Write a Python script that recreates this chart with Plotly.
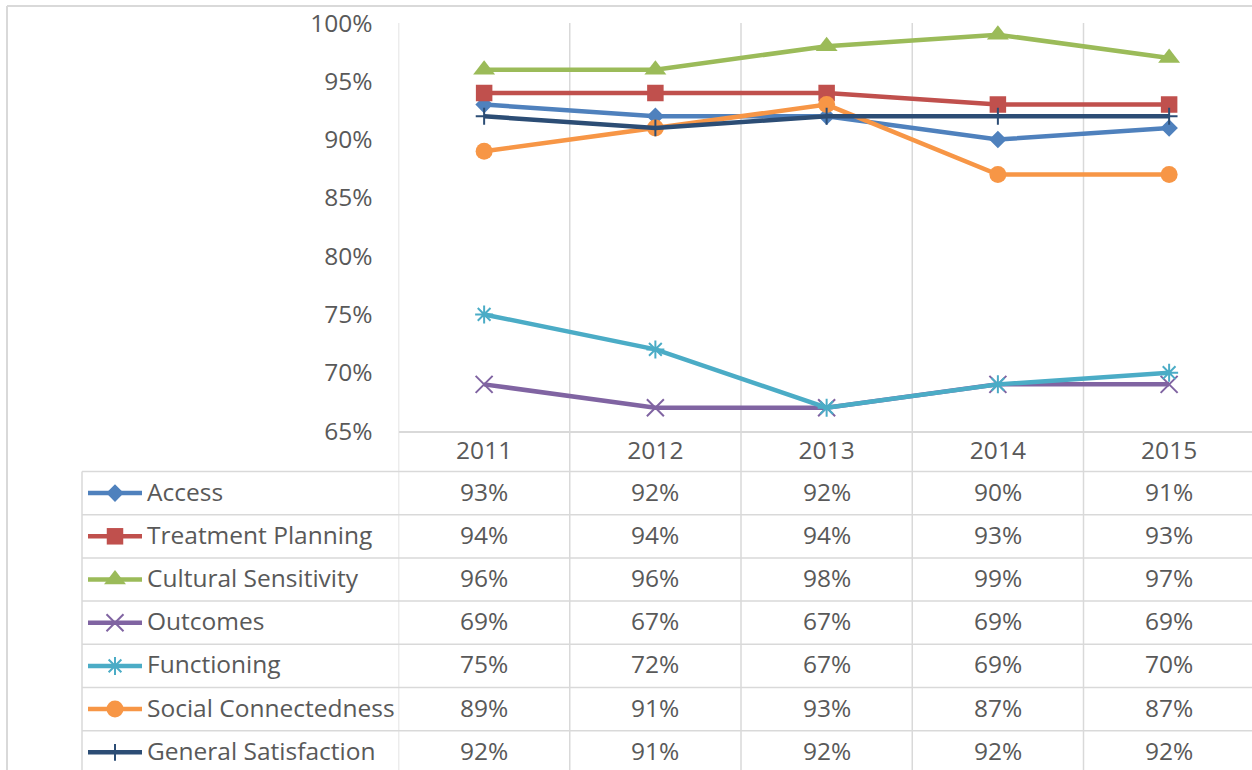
import plotly.graph_objects as go

# ---------------- data ----------------
years = ["2011", "2012", "2013", "2014", "2015"]
series_names = ["Access", "Treatment Planning", "Cultural Sensitivity", "Outcomes",
                "Functioning", "Social Connectedness", "General Satisfaction"]
access = [0.93, 0.92, 0.92, 0.90, 0.91]
treatment_planning = [0.94, 0.94, 0.94, 0.93, 0.93]
cultural_sensitivity = [0.96, 0.96, 0.98, 0.99, 0.97]
outcomes = [0.69, 0.67, 0.67, 0.69, 0.69]
functioning = [0.75, 0.72, 0.67, 0.69, 0.70]
social_connectedness = [0.89, 0.91, 0.93, 0.87, 0.87]
general_satisfaction = [0.92, 0.91, 0.92, 0.92, 0.92]
y_ticks = [0.65, 0.70, 0.75, 0.80, 0.85, 0.90, 0.95, 1.00]

series_values = [access, treatment_planning, cultural_sensitivity, outcomes,
                 functioning, social_connectedness, general_satisfaction]

# ---------------- styles ----------------
colors = ["#4F81BD", "#C0504D", "#9BBB59", "#8064A2", "#4BACC6", "#F79646", "#2C4D75"]
symbols = ["diamond", "square", "triangle-up", "x-thin-open", "asterisk-open", "circle", "cross-thin-open"]
sizes = [13.5, 16.5, 19, 17, 15, 17, 12]
LINE_W = 4.5

W, H = 1252, 770
FONT = "Open Sans"
FS = 24.5
TXT = "#595959"
GRID = "#D9D9D9"

PLOT_L, PLOT_T, PLOT_B = 398.5, 23.0, 431.0
CAT_W = 171.25
TABLE_L, TABLE_T, ROW_H = 82.0, 471.5, 43.2
KEY_X0, KEY_X1, KEY_TXT = 88.0, 142.0, 145.0

def px_x(p):
    return p / W

def px_y(p):
    return 1 - p / H

fig = go.Figure()

# main line traces
for name, vals, c, s, sz in zip(series_names, series_values, colors, symbols, sizes):
    is_open = s.endswith("open")
    fig.add_trace(go.Scatter(
        x=years, y=vals, name=name, mode="lines+markers",
        line=dict(color=c, width=LINE_W),
        marker=dict(symbol=s, size=sz, color=c,
                    line=dict(color=c, width=2 if is_open else 0)),
        xaxis="x", yaxis="y", showlegend=False, hoverinfo="skip",
    ))

# legend keys in the data table (drawn on a helper axis pair)
kx = [(KEY_X0 - TABLE_L) / (PLOT_L - TABLE_L),
      ((KEY_X0 + KEY_X1) / 2 - TABLE_L) / (PLOT_L - TABLE_L),
      (KEY_X1 - TABLE_L) / (PLOT_L - TABLE_L)]
for name, c, s, sz in zip(series_names, colors, symbols, sizes):
    is_open = s.endswith("open")
    fig.add_trace(go.Scatter(
        x=kx, y=[name] * 3, mode="lines+markers",
        line=dict(color=c, width=LINE_W),
        marker=dict(symbol=s, size=sz, color=c, opacity=[0, 1, 0],
                    line=dict(color=c, width=2 if is_open else 0)),
        xaxis="x2", yaxis="y2", showlegend=False, hoverinfo="skip",
    ))

annotations = []
# series names
for name in series_names:
    annotations.append(dict(
        x=(KEY_TXT - TABLE_L) / (PLOT_L - TABLE_L), y=name, xref="x2", yref="y2",
        text=name, showarrow=False, xanchor="left", yanchor="middle", yshift=2,
        font=dict(family=FONT, size=FS, color=TXT)))
# cell values
for name, vals in zip(series_names, series_values):
    for j, v in enumerate(vals):
        annotations.append(dict(
            x=j, y=name, xref="x", yref="y2", text=f"{round(v * 100)}%",
            showarrow=False, xanchor="center", yanchor="middle", yshift=2,
            font=dict(family=FONT, size=FS, color=TXT)))

shapes = []
line_style = dict(color=GRID, width=1.5)
# vertical grid / table column lines
for i in range(len(years)):
    shapes.append(dict(type="line", xref="x", yref="paper", x0=i - 0.5, x1=i - 0.5,
                       y0=0, y1=px_y(PLOT_T), line=line_style, layer="below"))
# table row lines
for k in range(len(series_names)):
    yy = px_y(TABLE_T + k * ROW_H)
    shapes.append(dict(type="line", xref="paper", yref="paper", x0=px_x(TABLE_L), x1=1,
                       y0=yy, y1=yy, line=line_style, layer="below"))
# table left border
shapes.append(dict(type="line", xref="paper", yref="paper", x0=px_x(TABLE_L), x1=px_x(TABLE_L),
                   y0=0, y1=px_y(TABLE_T), line=line_style, layer="below"))
# chart outer border (top & left)
shapes.append(dict(type="line", xref="paper", yref="paper", x0=px_x(7), x1=1,
                   y0=px_y(6), y1=px_y(6), line=dict(color=GRID, width=2)))
shapes.append(dict(type="line", xref="paper", yref="paper", x0=px_x(7), x1=px_x(7),
                   y0=0, y1=px_y(6), line=dict(color=GRID, width=2)))

n_rows_visible = (H - TABLE_T) / ROW_H

fig.update_layout(
    width=W, height=H, autosize=False,
    margin=dict(l=0, r=0, t=0, b=0, pad=0, autoexpand=False),
    paper_bgcolor="white", plot_bgcolor="white",
    font=dict(family=FONT, size=FS, color=TXT),
    showlegend=False,
    xaxis=dict(
        type="category", domain=[px_x(PLOT_L), 1],
        range=[-0.5, -0.5 + (W - PLOT_L) / CAT_W],
        showgrid=False, zeroline=False, automargin=False,
        showline=True, linecolor=GRID, linewidth=1.5,
        ticks="", tickfont=dict(family=FONT, size=FS, color=TXT),
        ticklabelstandoff=-3, anchor="y",
    ),
    yaxis=dict(
        domain=[px_y(PLOT_B), px_y(PLOT_T)], range=[0.65, 1.0],
        tickvals=y_ticks, tickformat=".0%",
        showgrid=False, zeroline=False, showline=False, ticks="", automargin=False,
        tickfont=dict(family=FONT, size=FS, color=TXT),
        ticklabelstandoff=25, anchor="x",
    ),
    xaxis2=dict(domain=[px_x(TABLE_L), px_x(PLOT_L)], range=[0, 1], visible=False,
                anchor="y2", automargin=False),
    yaxis2=dict(type="category", categoryarray=series_names, categoryorder="array",
                domain=[0, px_y(TABLE_T)], range=[-0.5 + n_rows_visible, -0.5],
                visible=False, anchor="x2", automargin=False),
    annotations=annotations,
    shapes=shapes,
)

post = (
    "document.body.style.margin='0';"
    "document.body.style.overflow='hidden';"
    "var d=document.getElementById('{plot_id}');"
    "d.style.position='fixed';d.style.top='0px';d.style.left='0px';"
)
fig.write_html("out.html", config={"displayModeBar": False}, post_script=post)
